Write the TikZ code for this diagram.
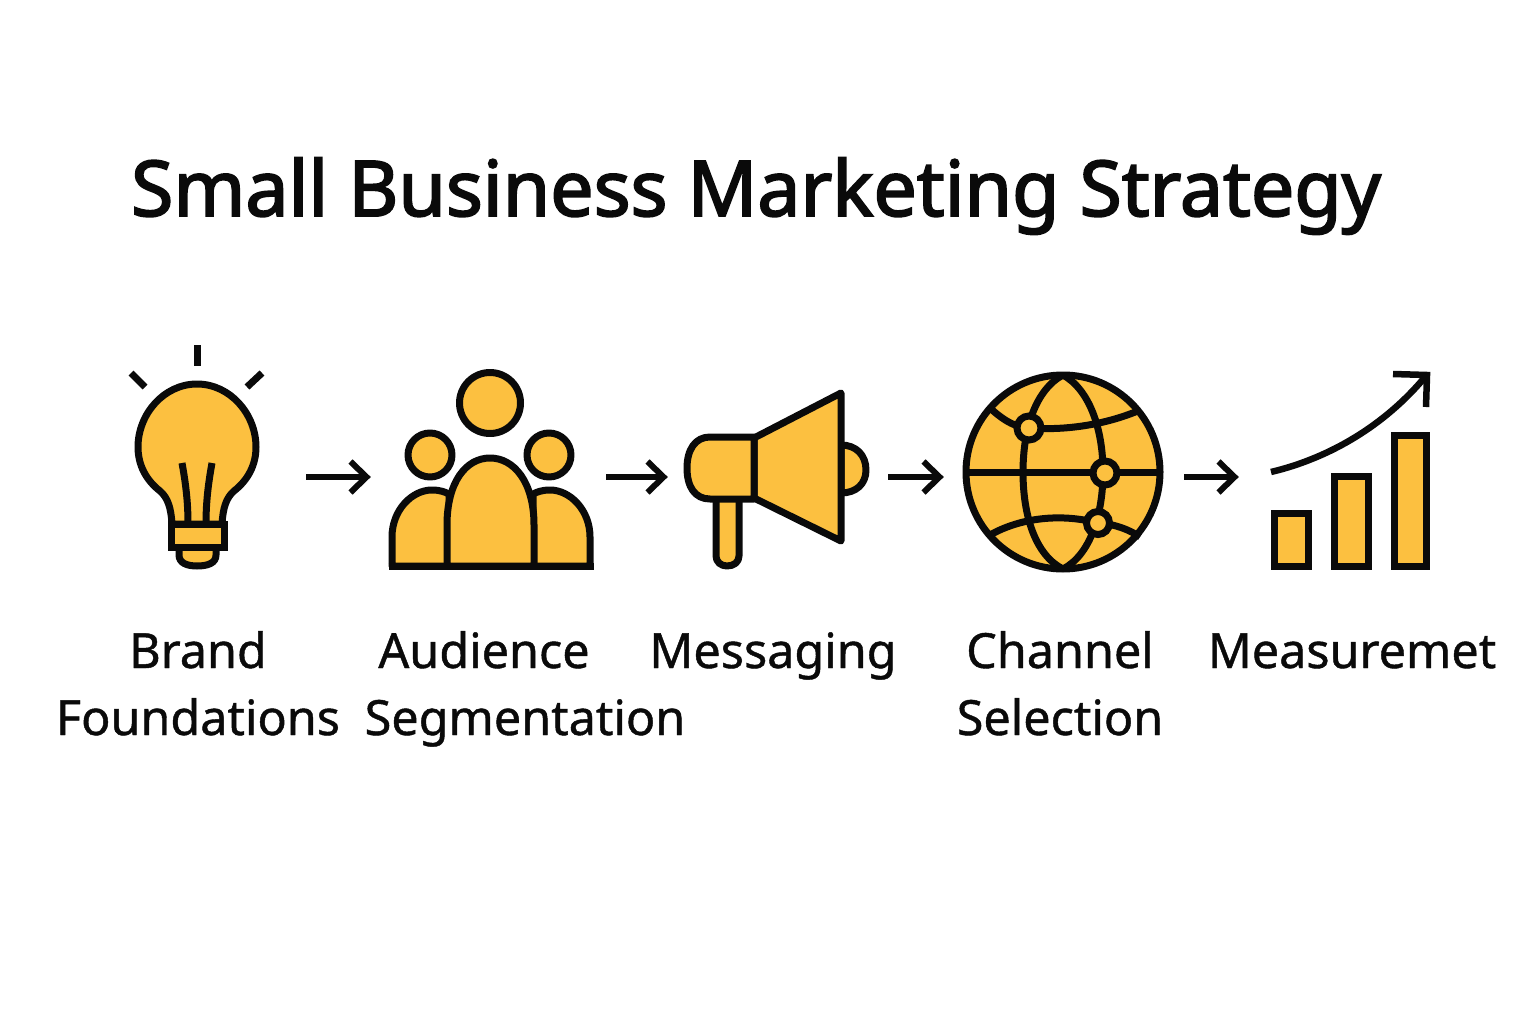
\documentclass[tikz,border=0pt]{standalone}
\usepackage{fontspec}
\setmainfont{Noto Sans}
\newfontfamily\capfont[FakeBold=0.9]{Noto Sans}
\newfontfamily\headfont[FakeBold=2.4]{Noto Sans}
\usetikzlibrary{arrows.meta}
\definecolor{amber}{HTML}{FCC040}
\definecolor{ink}{HTML}{0A0A0A}
\tikzset{
  icon/.style={draw=ink,fill=amber,line width=7pt,line join=round},
  stroke/.style={draw=ink,line width=7pt,line cap=round,line join=round},
  ray/.style={draw=ink,line width=7pt},
  hub/.style={draw=ink,fill=amber,line width=7pt},
  frame/.style={inner sep=0pt,minimum height=100pt,anchor=center},
  flow/.style={draw=ink,line width=6pt,-{Straight Barb[length=16pt,width=31pt,line width=6pt]}},
  caption/.style={anchor=base,inner sep=0pt,text=ink,font=\capfont\fontsize{48.5}{48.5}\selectfont},
  heading/.style={anchor=base,inner sep=0pt,text=ink,font=\headfont\fontsize{77}{77}\selectfont}
}
\begin{document}
\begin{tikzpicture}[x=1pt,y=-1pt]
\useasboundingbox (0,0) rectangle (1536,1024);
% invisible frames of the icons, used by the connectors
\node[frame,minimum width=126pt] (bulb) at (197,477) {};
\node[frame,minimum width=204pt] (people) at (491,477) {};
\node[frame,minimum width=184pt] (horn) at (776,477) {};
\node[frame,minimum width=200pt] (globe) at (1063,477) {};
\node[frame,minimum width=160pt] (chart) at (1350,477) {};
% title
\node[heading] (title) at (756,216) {Small Business Marketing Strategy};
% bulb
\draw[ray] (197,345) -- (197,366);
\draw[ray] (131,373) -- (145,387);
\draw[ray] (262,373) -- (247,387);
\draw[icon] (172,524) .. controls (171,508) and (168,498) .. (160,491)
  .. controls (146,480) and (138,465) .. (138,447)
  .. controls (138,414) and (164,384) .. (197,384)
  .. controls (230,384) and (256,414) .. (256,447)
  .. controls (256,465) and (248,480) .. (234,491)
  .. controls (226,498) and (223,508) .. (222,524) -- cycle;
\draw[stroke,line cap=butt] (182,463) .. controls (186,485) and (188,503) .. (188,524);
\draw[stroke,line cap=butt] (212,463) .. controls (208,485) and (206,503) .. (206,524);
\draw[icon] (179,547) -- (179,555) .. controls (179,563) and (187,566) .. (197,566)
  .. controls (208,566) and (216,563) .. (216,555) -- (216,547) -- cycle;
\draw[icon,line join=miter] (171,524) rectangle (224,547);
% people
\draw[icon] (392,566) -- (392,537) .. controls (392,510) and (412,490) .. (432,490)
  .. controls (440,490) and (445,492) .. (449,494) -- (449,566) -- cycle;
\draw[icon] (590,566) -- (590,537) .. controls (590,510) and (570,490) .. (550,490)
  .. controls (542,490) and (537,492) .. (533,494) -- (533,566) -- cycle;
\draw[icon] (447,566) -- (447,525) .. controls (447,482) and (466,458) .. (490,458)
  .. controls (514,458) and (534,482) .. (534,525) -- (534,566) -- cycle;
\draw[icon,line join=miter,line cap=butt] (388.5,566) -- (593.5,566);
\draw[icon] (490,403) circle[radius=30.5];
\draw[icon] (430,455) circle[radius=22];
\draw[icon] (549,455) circle[radius=22];
% megaphone
\draw[icon] (716,497) -- (716,556) .. controls (716,562) and (721,566) .. (727,566)
  .. controls (734,566) and (739,562) .. (739,556) -- (739,497) -- cycle;
\draw[icon] (841,445) .. controls (856,445) and (866,455) .. (866,470)
  .. controls (866,484) and (856,493) .. (841,493) -- cycle;
\draw[icon] (754,438) -- (841,393) -- (841,541) -- (754,498) -- cycle;
\draw[icon] (754,437) -- (754,499) -- (710,499) .. controls (695,499) and (687,487) .. (687,468)
  .. controls (687,450) and (695,437) .. (710,437) -- cycle;
% globe
\draw[icon] (1063,472) circle[radius=97];
\draw[stroke,line cap=butt] (966,472) -- (1160,472);
\draw[stroke,line cap=butt] (1063,375) .. controls (1035,390) and (1023,430) .. (1023,472)
  .. controls (1023,515) and (1035,555) .. (1063,569);
\draw[stroke,line cap=butt] (1063,375) .. controls (1090,390) and (1103,430) .. (1103,472)
  .. controls (1103,515) and (1090,555) .. (1063,569);
\draw[stroke,line cap=butt] (990,408) .. controls (1005,422) and (1018,428) .. (1029,428)
  .. controls (1070,431) and (1110,423) .. (1140,410);
\draw[stroke,line cap=butt] (990,535) .. controls (1020,518) and (1060,513) .. (1098,523)
  .. controls (1115,524) and (1130,530) .. (1140,537);
\draw[hub] (1029,428) circle[radius=12];
\draw[hub] (1105,473) circle[radius=12];
\draw[hub] (1098,523) circle[radius=11.5];
% chart
\draw[icon,line join=miter] (1274,513) rectangle (1308,566);
\draw[icon,line join=miter] (1334,476) rectangle (1368,566);
\draw[icon,line join=miter] (1394,435) rectangle (1426,566);
\draw[stroke,line cap=butt,line width=6.5pt] (1271,472) .. controls (1330,458) and (1385,425) .. (1425,377);
\draw[stroke,line cap=butt,line join=miter,line width=6.5pt] (1393,374) -- (1427,375) -- (1426,407);
% connectors
\draw[flow,shorten <=46pt,shorten >=18pt] (bulb) -- (people);
\draw[flow,shorten <=13pt,shorten >=16pt] (people) -- (horn);
\draw[flow,shorten <=20pt,shorten >=19pt] (horn) -- (globe);
\draw[flow,shorten <=21pt,shorten >=31pt] (globe) -- (chart);
% captions
\node[caption] (c1a) at (198,668) {Brand};
\node[caption] (c1b) at (198,735) {Foundations};
\node[caption] (c2a) at (484,668) {Audience};
\node[caption] (c2b) at (525,735) {Segmentation};
\node[caption] (c3a) at (773,668) {Messaging};
\node[caption] (c4a) at (1060,668) {Channel};
\node[caption] (c4b) at (1060,735) {Selection};
\node[caption] (c5a) at (1352,668) {Measuremet};
\end{tikzpicture}
\end{document}
